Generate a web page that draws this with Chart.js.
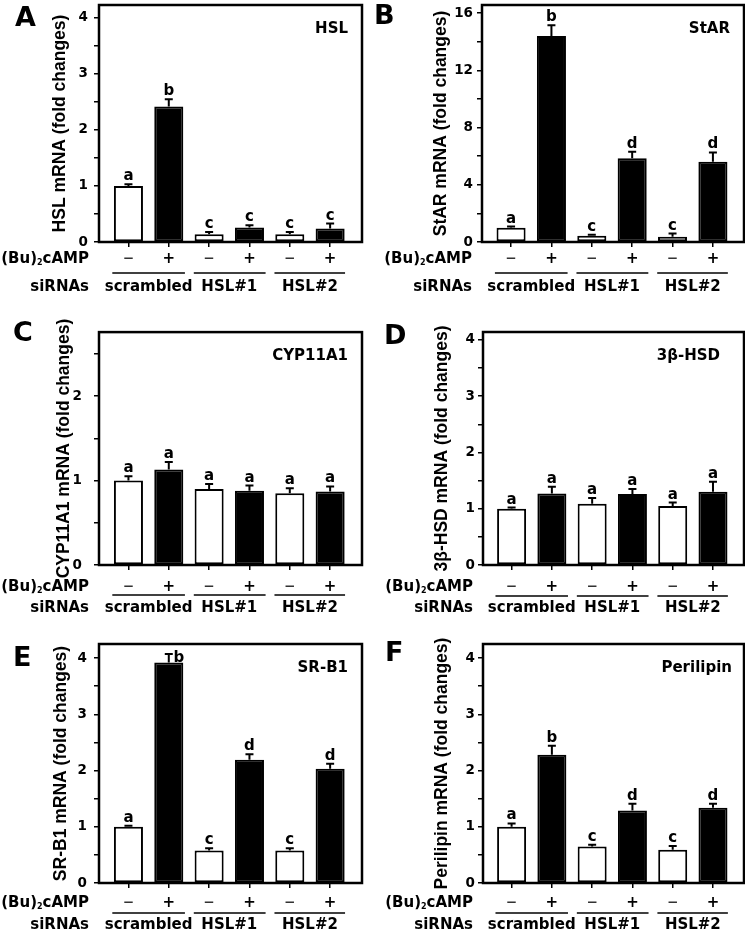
<!DOCTYPE html>
<html>
<head>
<meta charset="utf-8">
<script src="https://cdn.jsdelivr.net/npm/chart.js@4"></script>
<style>
  html, body { margin: 0; padding: 0; background: #fff; }
  body { width: 745px; height: 931px; position: relative; overflow: hidden; font-family: "DejaVu Sans", sans-serif; }
  canvas { position: absolute; }
  .letter { position: absolute; font-weight: bold; font-size: 27px; line-height: 1; color: #000; }
</style>
</head>
<body>
<script>
// shared categories
const groups = ['scrambled', 'HSL#1', 'HSL#2'];
const cAMP = ['–', '+', '–', '+', '–', '+'];

// A - HSL
const hslMean = [1.0, 2.42, 0.14, 0.26, 0.14, 0.24];
const hslErr = [0.03, 0.13, 0.04, 0.04, 0.04, 0.09];
const hslSig = ['a', 'b', 'c', 'c', 'c', 'c'];

// B - StAR
const starMean = [1.0, 14.4, 0.44, 5.85, 0.37, 5.61];
const starErr = [0.08, 0.75, 0.06, 0.45, 0.22, 0.65];
const starSig = ['a', 'b', 'c', 'd', 'c', 'd'];

// C - CYP11A1
const cypMean = [1.0, 1.13, 0.90, 0.88, 0.85, 0.87];
const cypErr = [0.05, 0.09, 0.06, 0.06, 0.06, 0.06];
const cypSig = ['a', 'a', 'a', 'a', 'a', 'a'];

// D - 3beta-HSD
const hsdMean = [1.0, 1.27, 1.09, 1.26, 1.05, 1.30];
const hsdErr = [0.02, 0.12, 0.10, 0.09, 0.06, 0.18];
const hsdSig = ['a', 'a', 'a', 'a', 'a', 'a'];

// E - SR-B1
const srbMean = [1.0, 3.92, 0.58, 2.19, 0.58, 2.03];
const srbErr = [0.02, 0.15, 0.04, 0.10, 0.04, 0.09];
const srbSig = ['a', 'b', 'c', 'd', 'c', 'd'];

// F - Perilipin
const plinMean = [1.0, 2.28, 0.65, 1.29, 0.59, 1.34];
const plinErr = [0.06, 0.16, 0.03, 0.12, 0.07, 0.07];
const plinSig = ['a', 'b', 'c', 'd', 'c', 'd'];

// y ticks (all get a tick mark, only the major ones get a label)
const ticks4 = [0, 0.5, 1, 1.5, 2, 2.5, 3, 3.5, 4];
const labels4 = [0, 1, 2, 3, 4];
const ticks16 = [0, 2, 4, 6, 8, 10, 12, 14, 16];
const labels16 = [0, 4, 8, 12, 16];
const ticks25 = [0, 0.5, 1, 1.5, 2, 2.5];
const labels25 = [0, 1, 2];

const FONT = '"DejaVu Sans", sans-serif';
const TITLE_FONT = '"Liberation Sans", Arial, sans-serif';
Chart.defaults.font.family = FONT;
Chart.defaults.color = '#000';

// where each pair's underline runs, in x units
const groupSpans = [[-0.4, 1.4], [1.62, 3.4], [3.62, 5.37]];

const figurePlugin = {
    id: 'figure',
    afterDatasetsDraw(chart, args, opts) {
        const ctx = chart.ctx;
        const y = chart.scales.y;
        const area = chart.chartArea;
        const bars = chart.getDatasetMeta(0).data;
        ctx.save();
        ctx.strokeStyle = '#000';
        ctx.fillStyle = '#000';
        ctx.lineWidth = 2;
        ctx.font = 'bold 15px ' + FONT;
        ctx.textAlign = 'center';
        ctx.textBaseline = 'alphabetic';
        bars.forEach((bar, i) => {
            const top = y.getPixelForValue(opts.mean[i] + opts.err[i]);
            ctx.beginPath();
            ctx.moveTo(bar.x, bar.y);
            ctx.lineTo(bar.x, top);
            ctx.moveTo(bar.x - 4, top);
            ctx.lineTo(bar.x + 4, top);
            ctx.stroke();
            let lx = bar.x;
            let ly = top - 4;
            if (ly - 12 < area.top) {
                lx += 10;
                ly = top + 8;
            }
            ctx.fillText(opts.sig[i], lx, ly);
        });
        ctx.restore();
    },
    afterDraw(chart, args, opts) {
        const ctx = chart.ctx;
        const x = chart.scales.x;
        const {left, right, top, bottom} = chart.chartArea;
        const L = opts.lay;
        ctx.save();
        ctx.strokeStyle = '#000';
        ctx.fillStyle = '#000';

        // frame
        ctx.lineWidth = 2.5;
        ctx.strokeRect(left, top, right - left, bottom - top);

        // gene name
        ctx.font = 'bold 15px ' + FONT;
        ctx.textAlign = 'right';
        ctx.textBaseline = 'alphabetic';
        ctx.fillText(opts.name, right - L.nameRight, top + 28);

        // (Bu)2cAMP row label
        const rx = left - 10;
        const rowY = bottom + L.rowDy;
        ctx.font = 'bold 15px ' + FONT;
        const w1 = ctx.measureText('(Bu)').width;
        const w3 = ctx.measureText('cAMP').width;
        ctx.font = 'bold 8px ' + FONT;
        const w2 = ctx.measureText('2').width;
        let sx = rx - (w1 + w2 + w3);
        ctx.textAlign = 'left';
        ctx.font = 'bold 15px ' + FONT;
        ctx.fillText('(Bu)', sx, rowY);
        ctx.font = 'bold 8px ' + FONT;
        ctx.fillText('2', sx + w1, rowY + 2);
        ctx.font = 'bold 15px ' + FONT;
        ctx.fillText('cAMP', sx + w1 + w2, rowY);

        // siRNAs row
        const gy = bottom + L.groupDy;
        ctx.textAlign = 'right';
        ctx.fillText('siRNAs', rx, gy);

        ctx.lineWidth = 1.5;
        ctx.textAlign = 'center';
        groups.forEach((g, k) => {
            const ly = bottom + L.lineDy;
            ctx.beginPath();
            ctx.moveTo(x.getPixelForValue(groupSpans[k][0]), ly);
            ctx.lineTo(x.getPixelForValue(groupSpans[k][1]), ly);
            ctx.stroke();
            ctx.fillText(g, x.getPixelForValue(2 * k + 0.5), gy);
        });
        ctx.restore();
    }
};

const panels = [
    { id: 'A', name: 'HSL', mean: hslMean, err: hslErr, sig: hslSig, yTicks: ticks4, yLabels: labels4,
      lay: { x0: 0, w: 372, left: 99, right: 362, top: 5, bottom: 242, yMax: 4.23, xMin: -0.73, xMax: 5.79,
             titleX: 60, yPad: 6, xPad: 3, rowDy: 21, lineDy: 31, groupDy: 49, nameRight: 14, letterX: 15, letterY: 7 } },
    { id: 'B', name: 'StAR', mean: starMean, err: starErr, sig: starSig, yTicks: ticks16, yLabels: labels16,
      lay: { x0: 372, w: 373, left: 482, right: 744, top: 5, bottom: 242, yMax: 16.56, xMin: -0.72, xMax: 5.77,
             titleX: 441.5, yPad: 4, xPad: 3, rowDy: 21, lineDy: 31, groupDy: 49, nameRight: 14, letterX: 374, letterY: 5 } },
    { id: 'C', name: 'CYP11A1', mean: cypMean, err: cypErr, sig: cypSig, yTicks: ticks25, yLabels: labels25,
      lay: { x0: 0, w: 372, left: 99, right: 362, top: 332, bottom: 565, yMax: 2.757, xMin: -0.73, xMax: 5.79,
             titleX: 64.5, yPad: 12, xPad: 8, rowDy: 26, lineDy: 30, groupDy: 47, nameRight: 14, letterX: 13, letterY: 322 } },
    { id: 'D', name: '3β-HSD', mean: hsdMean, err: hsdErr, sig: hsdSig, yTicks: ticks4, yLabels: labels4,
      lay: { x0: 372, w: 373, left: 483, right: 744, top: 332, bottom: 565, yMax: 4.14, xMin: -0.71, xMax: 5.77,
             titleX: 442, yPad: 3, xPad: 8, rowDy: 26, lineDy: 31, groupDy: 47, nameRight: 24, letterX: 384, letterY: 325 } },
    { id: 'E', name: 'SR-B1', mean: srbMean, err: srbErr, sig: srbSig, yTicks: ticks4, yLabels: labels4,
      lay: { x0: 0, w: 372, left: 99, right: 362, top: 644, bottom: 883, yMax: 4.25, xMin: -0.73, xMax: 5.79,
             titleX: 61.5, yPad: 7, xPad: 6, rowDy: 24, lineDy: 30, groupDy: 46, nameRight: 14, letterX: 13, letterY: 647 } },
    { id: 'F', name: 'Perilipin', mean: plinMean, err: plinErr, sig: plinSig, yTicks: ticks4, yLabels: labels4,
      lay: { x0: 372, w: 373, left: 483, right: 744, top: 644, bottom: 883, yMax: 4.25, xMin: -0.71, xMax: 5.77,
             titleX: 442.5, yPad: 3, xPad: 6, rowDy: 24, lineDy: 30, groupDy: 46, nameRight: 12, letterX: 385, letterY: 642 } }
];

function makePanel(p) {
    const L = p.lay;
    const cw = L.w;
    const ch = L.bottom - L.top + 80;
    const canvas = document.createElement('canvas');
    canvas.width = cw;
    canvas.height = ch;
    canvas.style.left = L.x0 + 'px';
    canvas.style.top = (L.top - 20) + 'px';
    canvas.style.width = cw + 'px';
    canvas.style.height = ch + 'px';
    document.body.appendChild(canvas);

    const letter = document.createElement('div');
    letter.className = 'letter';
    letter.textContent = p.id;
    letter.style.left = L.letterX + 'px';
    letter.style.top = (L.letterY - 4) + 'px';
    document.body.appendChild(letter);

    const titleSize = 17.5;

    new Chart(canvas, {
        type: 'bar',
        data: {
            datasets: [{
                data: p.mean.map((v, i) => ({x: i, y: v})),
                backgroundColor: cAMP.map(c => c === '+' ? '#000' : '#fff'),
                borderColor: '#000',
                borderWidth: 2,
                borderSkipped: false,
                barPercentage: 0.72,
                categoryPercentage: 1
            }]
        },
        options: {
            responsive: false,
            animation: false,
            events: [],
            layout: { padding: { top: 20, left: 0, bottom: 0, right: cw - (L.right - L.x0) } },
            plugins: {
                legend: { display: false },
                tooltip: { enabled: false },
                figure: { mean: p.mean, err: p.err, sig: p.sig, name: p.name, lay: L }
            },
            scales: {
                x: {
                    type: 'linear',
                    min: L.xMin,
                    max: L.xMax,
                    offset: false,
                    grid: { offset: false, drawOnChartArea: false, color: '#000', lineWidth: 1.5, tickLength: 5 },
                    border: { display: false },
                    afterBuildTicks: s => { s.ticks = cAMP.map((c, i) => ({value: i})); },
                    afterFit: s => { s.height = 60; },
                    ticks: {
                        padding: L.xPad,
                        maxRotation: 0,
                        autoSkip: false,
                        // the minus sign is long and thin, the plus is bold
                        font: c => cAMP[c.index] === '+'
                            ? { size: 15, weight: 'bold', lineHeight: 1.2 }
                            : { size: 21, weight: 'normal', lineHeight: 18 / 21 },
                        color: c => cAMP[c.index] === '+' ? '#000' : '#333',
                        callback: v => cAMP[v]
                    }
                },
                y: {
                    min: 0,
                    max: L.yMax,
                    grid: { drawOnChartArea: false, color: '#000', lineWidth: 1.5, tickLength: 5 },
                    border: { display: false },
                    afterBuildTicks: s => { s.ticks = p.yTicks.map(v => ({value: v})); },
                    afterFit: s => { s.width = L.left - L.x0; },
                    ticks: {
                        padding: L.yPad,
                        font: { size: 13.5, weight: 'bold' },
                        callback: v => p.yLabels.includes(v) ? String(v) : ''
                    },
                    title: {
                        display: true,
                        text: p.name + ' mRNA (fold changes)',
                        font: { family: TITLE_FONT, size: titleSize, weight: 'bold' },
                        padding: { top: L.titleX - L.x0 - titleSize * 0.6, bottom: 0 }
                    }
                }
            }
        },
        plugins: [figurePlugin]
    });
}

panels.forEach(makePanel);
</script>
</body>
</html>
